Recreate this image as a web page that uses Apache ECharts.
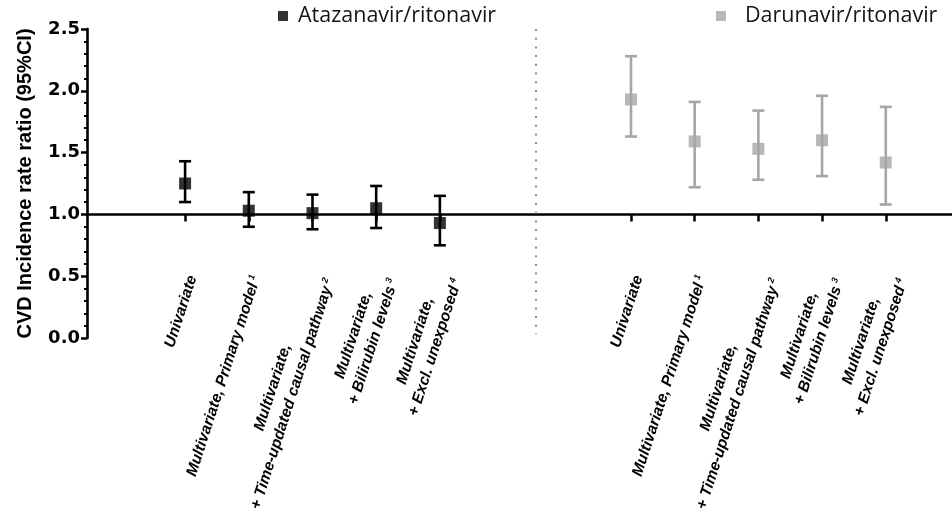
<!DOCTYPE html>
<html>
<head>
<meta charset="utf-8">
<script src="https://cdn.jsdelivr.net/npm/echarts@6/dist/echarts.min.js"></script>
<style>
  html, body { margin: 0; padding: 0; background: #fff; }
  #chart { width: 952px; height: 519px; }
</style>
</head>
<body>
<div id="chart"></div>
<script>
// Model labels (line breaks separate the two label lines) and their footnote marks
const modelLabels = [
  'Univariate',
  'Multivariate, Primary model',
  'Multivariate,\n+ Time-updated causal pathway',
  'Multivariate,\n+ Bilirubin levels',
  'Multivariate,\n+ Excl. unexposed'
];
const footnotes = ['', '1', '2', '3', '4'];

const regimens = ['Atazanavir/ritonavir', 'Darunavir/ritonavir'];

// Incidence rate ratios with 95% CI
const atvEstimate = [1.25, 1.03, 1.01, 1.05, 0.93];
const atvLower    = [1.10, 0.90, 0.88, 0.89, 0.75];
const atvUpper    = [1.43, 1.18, 1.16, 1.23, 1.15];

const drvEstimate = [1.93, 1.59, 1.53, 1.60, 1.42];
const drvLower    = [1.63, 1.22, 1.28, 1.31, 1.08];
const drvUpper    = [2.28, 1.91, 1.84, 1.96, 1.87];

// x slots for the two panels, and the separator between them
const atvSlots = [1, 2, 3, 4, 5];
const drvSlots = [8, 9, 10, 11, 12];
const separatorSlot = 6.5;

// y scale and reference line
const yMin = 0, yMax = 2.5, yStep = 0.5;
const referenceRatio = 1.0;

const black = '#000000';
const grey = '#a6a6a6';

const labelSize = 15.5, supSize = 9, labelLineHeight = 21;
const labelFont = `italic bold ${labelSize}px "Liberation Sans"`;
const supFont = `italic bold ${supSize}px "Liberation Sans"`;
const measureCtx = document.createElement('canvas').getContext('2d');
function textWidth(t, font) { measureCtx.font = font; return measureCtx.measureText(t).width; }

// Build rich label strings: two-line labels keep their lines centred on each other
const rich = {
  m: { fontFamily: 'Liberation Sans', fontStyle: 'italic', fontWeight: 'bold', fontSize: labelSize, lineHeight: labelLineHeight, color: '#000' },
  s: { fontFamily: 'Liberation Sans', fontStyle: 'italic', fontWeight: 'bold', fontSize: supSize, color: '#000', verticalAlign: 'top', padding: [2, 0, 0, 3] }
};
const labelText = modelLabels.map((lab, i) => {
  const lines = lab.split('\n');
  const fn = footnotes[i] ? `{s|${footnotes[i]}}` : '';
  if (lines.length === 1) return `{m|${lines[0]}}${fn}`;
  const w1 = textWidth(lines[0], labelFont);
  const w2 = textWidth(lines[1], labelFont) + (footnotes[i] ? textWidth(footnotes[i], supFont) + 3 : 0);
  const pad = Math.max(0, (w2 - w1) / 2);
  rich['p' + i] = Object.assign({}, rich.m, { padding: [0, pad, 0, 0] });
  return `{p${i}|${lines[0]}}\n{m|${lines[1]}}${fn}`;
});

const allSlots = atvSlots.concat(drvSlots);
const slotLabel = {};
atvSlots.forEach((s, i) => { slotLabel[s] = labelText[i]; });
drvSlots.forEach((s, i) => { slotLabel[s] = labelText[i]; });

const gridTop = 29, gridBottom = 181, chartHeight = 519;
const gridHeight = chartHeight - gridTop - gridBottom;
const xAxisOffset = -gridHeight * (referenceRatio - yMin) / (yMax - yMin);

function errorBars(slots, lo, hi) {
  return slots.map((s, i) => [s, lo[i], hi[i]]);
}
function points(slots, est) {
  return slots.map((s, i) => [s, est[i]]);
}
function renderErrorBar(color) {
  return function (params, api) {
    const x = api.value(0);
    const top = api.coord([x, api.value(2)]);
    const bottom = api.coord([x, api.value(1)]);
    const half = 6;
    const style = { stroke: color, lineWidth: 2.6 };
    return {
      type: 'group',
      children: [
        { type: 'line', shape: { x1: top[0], y1: top[1], x2: bottom[0], y2: bottom[1] }, style },
        { type: 'line', shape: { x1: top[0] - half, y1: top[1], x2: top[0] + half, y2: top[1] }, style },
        { type: 'line', shape: { x1: bottom[0] - half, y1: bottom[1], x2: bottom[0] + half, y2: bottom[1] }, style }
      ]
    };
  };
}

const chart = echarts.init(document.getElementById('chart'), null, { renderer: 'canvas' });

chart.setOption({
  animation: false,
  backgroundColor: '#ffffff',
  grid: { left: 87, right: 0, top: gridTop, bottom: gridBottom, containLabel: false, outerBoundsMode: 'none' },
  legend: [
    {
      data: [regimens[0]], left: 278, top: 5, padding: 0,
      icon: 'rect', itemWidth: 10, itemHeight: 10,
      textStyle: { fontFamily: 'Open Sans', fontSize: 21.5, color: '#151515', padding: [0, 0, 0, 5] }
    },
    {
      data: [regimens[1]], left: 716, top: 5, padding: 0,
      icon: 'rect', itemWidth: 10, itemHeight: 10,
      textStyle: { fontFamily: 'Open Sans', fontSize: 21.5, color: '#151515', padding: [0, 0, 0, 14] }
    }
  ],
  xAxis: {
    type: 'value',
    min: -0.54,
    max: 13.04,
    position: 'bottom',
    offset: xAxisOffset,
    splitLine: { show: false },
    axisLine: { show: true, onZero: false, lineStyle: { color: black, width: 2.6 } },
    axisTick: { show: true, customValues: allSlots, length: 7, lineStyle: { color: black, width: 2.5 } },
    axisLabel: {
      show: true,
      customValues: allSlots,
      rotate: 72,
      margin: 59,
      padding: [16, 0, 0, 0],
      formatter: v => slotLabel[v] || '',
      rich: rich
    }
  },
  yAxis: {
    type: 'value',
    min: yMin, max: yMax, interval: yStep,
    name: 'CVD Incidence rate ratio (95%CI)',
    nameLocation: 'middle',
    nameGap: 52,
    nameTextStyle: { fontFamily: 'Liberation Sans', fontWeight: 'bold', fontSize: 20, color: '#000' },
    splitLine: { show: false },
    axisLine: { show: true, onZero: false, lineStyle: { color: black, width: 2.6 } },
    axisTick: { show: true, length: 6, lineStyle: { color: black, width: 2.5 } },
    minorTick: { show: true, splitNumber: 5, length: 3, lineStyle: { color: black, width: 2 } },
    axisLabel: {
      margin: 7,
      formatter: v => v.toFixed(1),
      fontFamily: 'DejaVu Sans', fontWeight: 'bold', fontSize: 18, color: '#000'
    }
  },
  series: [
    {
      name: regimens[0] + ' CI',
      type: 'custom',
      renderItem: renderErrorBar(black),
      data: errorBars(atvSlots, atvLower, atvUpper),
      encode: { x: 0, y: [1, 2] },
      z: 3
    },
    {
      name: regimens[1] + ' CI',
      type: 'custom',
      renderItem: renderErrorBar(grey),
      data: errorBars(drvSlots, drvLower, drvUpper),
      encode: { x: 0, y: [1, 2] },
      z: 3
    },
    {
      name: regimens[0],
      type: 'scatter',
      symbol: 'rect',
      symbolSize: 12,
      itemStyle: { color: black },
      data: points(atvSlots, atvEstimate),
      z: 4,
      markLine: {
        silent: true,
        symbol: 'none',
        label: { show: false },
        lineStyle: { color: '#8c8c8c', width: 2, type: [2, 6.7] },
        data: [[{ coord: [separatorSlot, yMax] }, { coord: [separatorSlot, 0.03] }]]
      }
    },
    {
      name: regimens[1],
      type: 'scatter',
      symbol: 'rect',
      symbolSize: 12,
      itemStyle: { color: grey },
      data: points(drvSlots, drvEstimate),
      z: 4
    }
  ]
});
</script>
</body>
</html>
